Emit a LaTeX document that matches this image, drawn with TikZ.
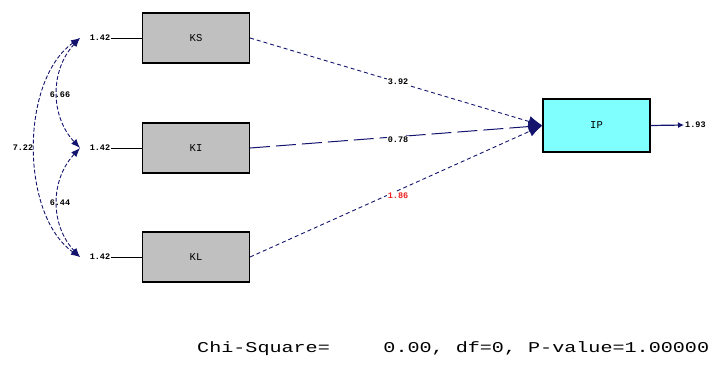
\documentclass[tikz,border=0pt]{standalone}
\usepackage{fontspec}
\setmainfont{Liberation Sans}
\newfontfamily\monofont{Liberation Mono}
\usetikzlibrary{arrows.meta}
\definecolor{navy}{RGB}{20,20,110}
\definecolor{boxgray}{RGB}{192,192,192}
\definecolor{ipcyan}{RGB}{128,255,255}
\definecolor{redlbl}{RGB}{235,30,30}
\begin{document}
\begin{tikzpicture}[x=1pt,y=-1pt,
  varbox/.style={draw=black,line width=1.1pt,fill=boxgray,minimum width=107pt,minimum height=50pt,inner sep=0pt,font=\monofont\fontsize{10.5}{11}\selectfont},
  ipbox/.style={varbox,fill=ipcyan,minimum height=53pt},
  lbl/.style={font=\monofont\bfseries\fontsize{8.5}{9}\selectfont,inner sep=1pt},
  cov/.style={draw=navy,line width=0.9pt,dash pattern=on 4pt off 2pt,{Latex[length=9pt,width=7pt]}-{Latex[length=9pt,width=7pt]}},
  path/.style={draw=navy,line width=0.9pt,dash pattern=on 4pt off 3pt,-{Latex[length=14pt,width=11pt]}},
  pathlong/.style={draw=navy,line width=1pt,dash pattern=on 20pt off 6pt,-{Latex[length=14pt,width=11pt]}}]
\useasboundingbox (0,0) rectangle (709,365);
\clip (0,0) rectangle (709,365);
% boxes
\node[varbox] (KS) at (196,38) {KS};
\node[varbox] (KI) at (196,148) {KI};
\node[varbox] (KL) at (196,257) {KL};
\node[ipbox] (IP) at (596.5,125.5) {IP};
% variance labels and lines
\coordinate (hKS) at (80,38);
\coordinate (hKI) at (80,148);
\coordinate (hKL) at (80,257);
\node[lbl] (vKS) at (100,38) {1.42};
\node[lbl] (vKI) at (100,148) {1.42};
\node[lbl] (vKL) at (100,257) {1.42};
\draw[line width=0.9pt] (vKS.east) -- (KS.west);
\draw[line width=0.9pt] (vKI.east) -- (KI.west);
\draw[line width=0.9pt] (vKL.east) -- (KL.west);
% covariances
\draw[cov] (hKS) .. controls (20,80) and (20,215) .. (hKL);
\draw[cov] (hKS) .. controls (50,70) and (50,116) .. (hKI);
\draw[cov] (hKI) .. controls (50,180) and (50,225) .. (hKL);
\node[lbl] (c1) at (60,95) {6.66};
\node[lbl] (c2) at (23,148) {7.22};
\node[lbl] (c3) at (60,203) {6.44};
% paths
\draw[path] (KS.east) -- (IP.west);
\draw[pathlong] (KI.east) -- (IP.west);
\draw[path] (KL.east) -- (IP.west);
\node[lbl,fill=white] (p1) at (398,82) {3.92};
\node[lbl,fill=white] (p2) at (398,140) {0.78};
\node[lbl,fill=white,text=redlbl] (p3) at (398,196) {1.86};
% IP error
\node[lbl,anchor=west] (eIP) at (684,125) {1.93};
\draw[draw=navy,line width=1.2pt,-{Latex[length=6pt,width=6pt]}] (IP.east) -- (eIP.west);
% fit text
\node[anchor=base west,inner sep=0pt] (fit) at (197,352) {\scalebox{1.34}[1]{\monofont\fontsize{15}{16}\selectfont Chi-Square=\hspace{40pt}0.00, df=0, P-value=1.00000}};
\end{tikzpicture}
\end{document}
